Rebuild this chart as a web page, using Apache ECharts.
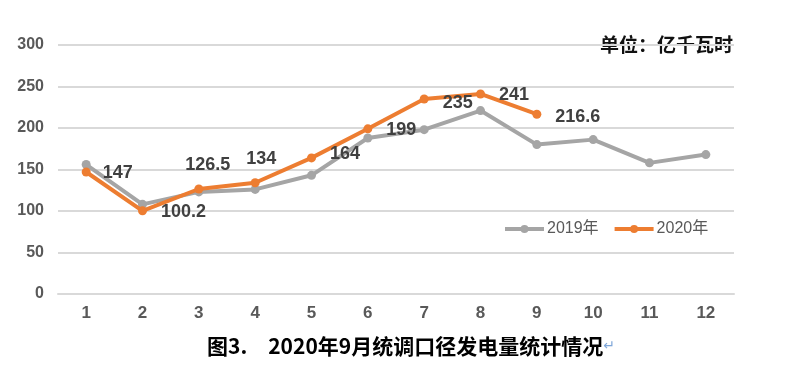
<!DOCTYPE html>
<html><head><meta charset="utf-8">
<script src="https://cdn.jsdelivr.net/npm/echarts@6/dist/echarts.min.js"></script>
<style>html,body{margin:0;padding:0;background:#fff;}#c{width:800px;height:373px;}</style>
</head><body><div id="c"></div>
<script>
var months = ['1','2','3','4','5','6','7','8','9','10','11','12'];
var s2019 = [156, 108, 123, 126, 143, 188, 198, 221, 180, 186, 158, 168];
var s2020 = [147, 100.2, 126.5, 134, 164, 199, 235, 241, 216.6];
var yTicks = [0, 50, 100, 150, 200, 250, 300];
var names = ['2019年', '2020年'];

// label placement per point of 2020 series (style only)
var labelPlace = [
  {position:'right', distance:12, offset:[0,1]},
  {position:'right', distance:14, offset:[0,1]},
  {position:'top', distance:10, offset:[9,0]},
  {position:'top', distance:10, offset:[6,0]},
  {position:'right', distance:14, offset:[0,-4]},
  {position:'right', distance:14, offset:[0,1]},
  {position:'right', distance:14, offset:[0,4]},
  {position:'right', distance:14, offset:[0,1]},
  {position:'right', distance:14, offset:[0,3]}
];
var d2020 = s2020.map(function(v,i){ return {value:v, label:labelPlace[i]}; });

var font = '"Liberation Sans", Arial, "Noto Sans CJK SC", sans-serif';
var chart = echarts.init(document.getElementById('c'), null, {renderer:'canvas'});
chart.setOption({
  animation:false,
  textStyle:{fontFamily:font},
  grid:{left:58, right:66, top:45, bottom:79},
  legend:{
    data:names, left:498, top:216, itemWidth:39, itemHeight:10, itemGap:14, orient:'horizontal', width:300,
    lineStyle:{width:4},
    textStyle:{color:'#595959', fontSize:16, fontFamily:font, padding:[0,0,0,-2]}
  },
  graphic:[
    {type:'text', right:67, top:35, style:{text:'单位：亿千瓦时', fill:'#111', font:'bold 19px "Noto Sans CJK SC", sans-serif'}},
    {type:'text', left:207, top:336, style:{
      text:'{a|图3.　2020年9月统调口径发电量统计情况}{b|↵}',
      rich:{
        a:{fill:'#000', fontSize:21, fontWeight:'bold', fontFamily:'"Noto Sans CJK SC", sans-serif'},
        b:{fill:'#7fa7d9', fontSize:14, fontFamily:'"DejaVu Sans", sans-serif'}
      }}}
  ],
  xAxis:{
    type:'category', data:months, boundaryGap:true,
    axisLine:{lineStyle:{color:'#d9d9d9', width:2}},
    axisTick:{show:false},
    axisLabel:{color:'#595959', fontSize:17, fontWeight:'bold', margin:11, fontFamily:font}
  },
  yAxis:{
    type:'value', min:yTicks[0], max:yTicks[yTicks.length-1], interval:50,
    axisLine:{show:false}, axisTick:{show:false},
    splitLine:{lineStyle:{color:'#d9d9d9', width:2}},
    axisLabel:{color:'#595959', fontSize:16, fontWeight:'bold', margin:14, fontFamily:font}
  },
  series:[
    {name:names[0], type:'line', data:s2019, symbol:'circle', symbolSize:9,
     lineStyle:{color:'#a5a5a5', width:4}, itemStyle:{color:'#a5a5a5'}, z:2},
    {name:names[1], type:'line', data:d2020, symbol:'circle', symbolSize:9,
     lineStyle:{color:'#ed7d31', width:4}, itemStyle:{color:'#ed7d31'}, z:3,
     label:{show:true, color:'#404040', fontSize:18, fontWeight:'bold', fontFamily:font}}
  ]
});
</script></body></html>
